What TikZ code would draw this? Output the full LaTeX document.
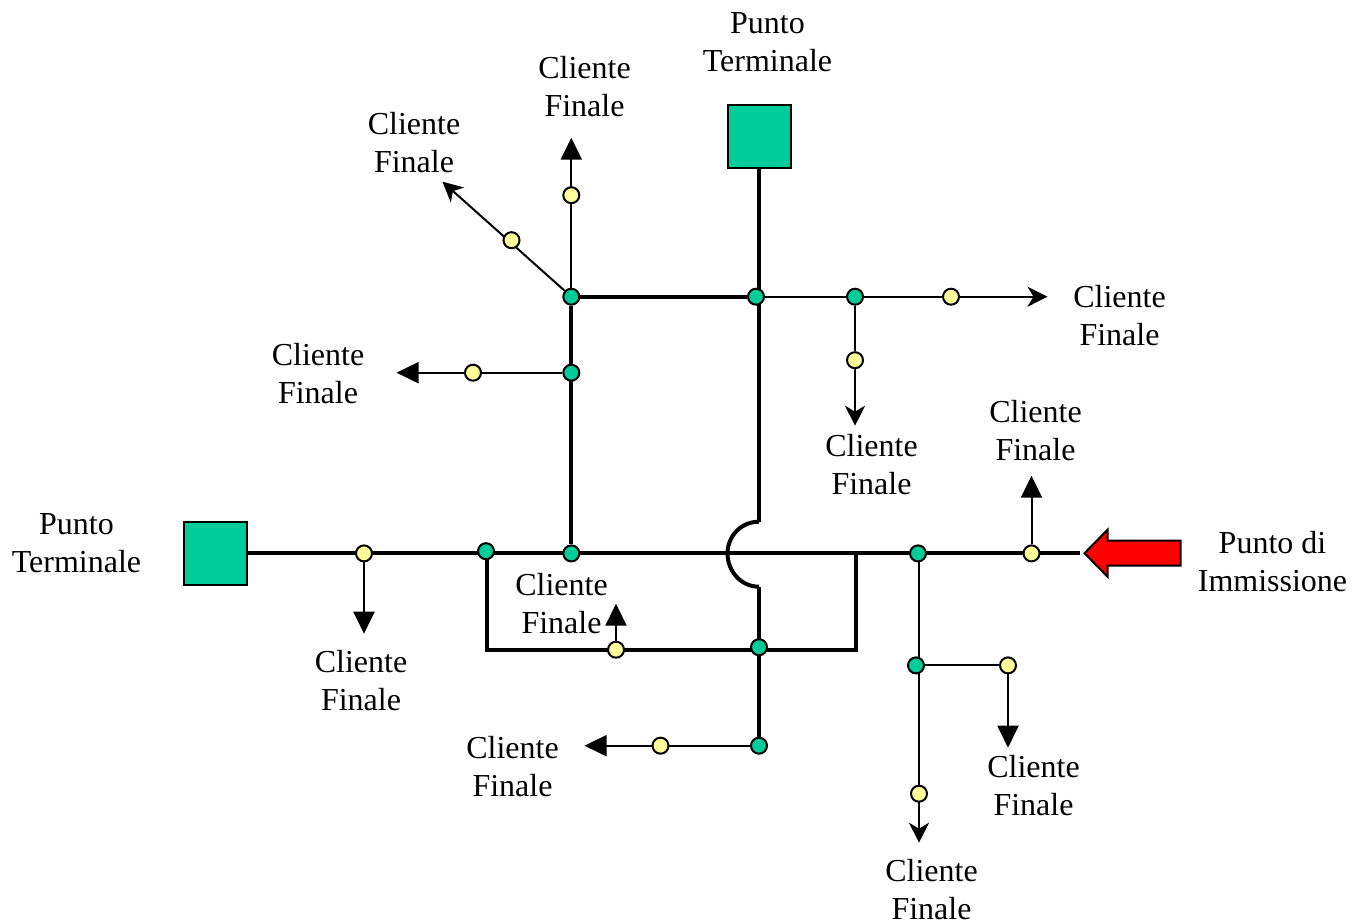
\documentclass[tikz,border=0pt]{standalone}
\usepackage{fontspec}
\setmainfont{Liberation Serif}
\usetikzlibrary{arrows.meta}
\definecolor{termgreen}{HTML}{00CC99}
\definecolor{tapyellow}{HTML}{FFFF99}
\tikzset{
  gnode/.style={circle,draw=black,fill=termgreen,line width=2pt,minimum size=16pt,inner sep=0pt},
  ynode/.style={circle,draw=black,fill=tapyellow,line width=2pt,minimum size=16pt,inner sep=0pt},
  termbox/.style={draw=black,fill=termgreen,line width=2pt,minimum size=63pt,inner sep=0pt},
  lbl/.style={align=center,inner sep=0pt,font=\fontsize{32}{38}\selectfont},
  thick line/.style={line width=4pt},
  thin line/.style={line width=2pt},
  tri/.style={thin line,-{Triangle[length=22pt,width=21pt]}},
  stl/.style={thin line,-{Stealth[length=20pt,width=20pt,inset=6pt]}},
}
\begin{document}
\begin{tikzpicture}[x=1pt,y=-1pt]
\useasboundingbox (0.5,0.3) rectangle (1363.5,922.3);
% free ends
\coordinate (eR) at (1048,297);
\coordinate (eD1) at (855.5,426);
\coordinate (eU1) at (571.8,138);
\coordinate (eDiag) at (443,182);
\coordinate (eL1) at (397,373);
\coordinate (eD2) at (364.5,634);
\coordinate (eU2) at (1032,476);
\coordinate (eU3) at (616.5,604);
\coordinate (eL2) at (585,746);
\coordinate (eD3) at (919.5,843);
\coordinate (eD4) at (1008.5,748);
\coordinate (mainEnd) at (1080,553.7);
\coordinate (rectTL) at (487,650.5);
\coordinate (rectTR) at (856,650.5);
\coordinate (rectA) at (487,553.7);
\coordinate (rectB) at (856,553.7);
\coordinate (jumpA) at (759.5,522);
\coordinate (jumpB) at (759.5,587);
% terminal boxes
\node[termbox] (tL) at (215.5,554) {};
\node[termbox] (tT) at (760,137) {};
% junctions
\node[gnode] (g1) at (571.8,297) {};
\node[gnode] (g2) at (756.5,297) {};
\node[gnode] (g3) at (855.5,297) {};
\node[gnode] (g4) at (571.8,373) {};
\node[gnode] (g5) at (486.5,551.5) {};
\node[gnode] (g6) at (571.8,553.7) {};
\node[gnode] (g7) at (918.5,553.7) {};
\node[gnode] (g8) at (759.5,647.5) {};
\node[gnode] (g9) at (759.5,746) {};
\node[gnode] (g10) at (916.5,665.7) {};
\node[ynode] (y1) at (951.5,297) {};
\node[ynode] (y2) at (855.5,360.5) {};
\node[ynode] (y3) at (512,240.5) {};
\node[ynode] (y4) at (571.8,195.5) {};
\node[ynode] (y5) at (473.5,373) {};
\node[ynode] (y6) at (364.5,553.7) {};
\node[ynode] (y7) at (1032,553.7) {};
\node[ynode] (y8) at (616.5,650) {};
\node[ynode] (y9) at (661,746) {};
\node[ynode] (y10) at (1008.5,665.7) {};
\node[ynode] (y11) at (919.5,794) {};
% connectors
\pgfdeclarelayer{wires}
\pgfsetlayers{wires,main}
\begin{pgfonlayer}{wires}
\draw[thick line] (tL.east |- mainEnd) -- (mainEnd);
\draw[thick line] (jumpA |- tT.south) -- (jumpA);
\draw[thick line] (jumpA) .. controls (741,522) and (728,537) .. (728,553.7) .. controls (728,571) and (741,587) .. (jumpB);
\draw[thick line] (jumpB) -- (g9);
\draw[thick line,line join=miter] (rectA) -- (rectTL) -- (rectTR) -- (rectB);
\draw[thick line] (g1) -- (g6);
\draw[thick line] (g1) -- (g2);
\draw[thin line] (g2) -- (g3);
\draw[thin line] (g3) -- (y1);
\draw[stl] (y1) -- (eR);
\draw[thin line] (g3) -- (y2);
\draw[stl] (y2) -- (eD1);
\draw[tri] (g1) -- (eU1);
\draw[stl] (g1) -- (eDiag);
\draw[tri] (g4) -- (eL1);
\draw[tri] (y6) -- (eD2);
\draw[tri] (y7) -- (eU2);
\draw[tri] (y8) -- (eU3);
\draw[tri] (g9) -- (eL2);
\draw[stl] (g7.south -| eD3) -- (eD3);
\draw[thin line] (g10) -- (y10);
\draw[tri] (y10) -- (eD4);
\end{pgfonlayer}
% red arrow
\path[draw=black,fill=red,line width=2pt,line join=miter]
  (1085,553.5) -- (1108,530) -- (1108,541) -- (1181,541) -- (1181,566) -- (1108,566) -- (1108,577) -- cycle;
% labels
\node[lbl] (l1) at (768,42.5) {Punto\\Terminale};
\node[lbl] (l2) at (585,86.5) {Cliente\\Finale};
\node[lbl] (l3) at (414.5,142.5) {Cliente\\Finale};
\node[lbl] (l4) at (1120,315.5) {Cliente\\Finale};
\node[lbl] (l5) at (318.5,373.5) {Cliente\\Finale};
\node[lbl] (l6) at (872,464.5) {Cliente\\Finale};
\node[lbl] (l7) at (1036,431) {Cliente\\Finale};
\node[lbl] (l8) at (77,543) {Punto\\Terminale};
\node[lbl] (l9) at (1273,562) {Punto di\\Immissione};
\node[lbl] (l10) at (562,603.5) {Cliente\\Finale};
\node[lbl] (l11) at (361.5,680.5) {Cliente\\Finale};
\node[lbl] (l12) at (513,767) {Cliente\\Finale};
\node[lbl] (l13) at (1034,786) {Cliente\\Finale};
\node[lbl] (l14) at (932,890) {Cliente\\Finale};
\end{tikzpicture}
\end{document}
